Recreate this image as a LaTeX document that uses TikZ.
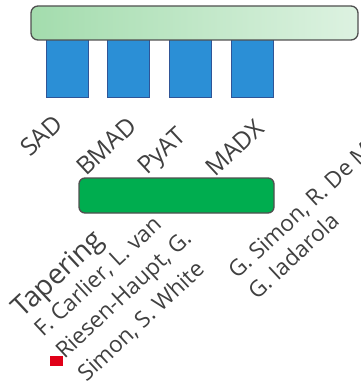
\documentclass[tikz,border=0pt]{standalone}
\usepackage{fontspec}
\setmainfont{Open Sans}
\definecolor{barleft}{HTML}{A3DCAD}
\definecolor{barright}{HTML}{DDF2E1}
\definecolor{bordergray}{HTML}{505050}
\definecolor{toolblue}{HTML}{2B8FD6}
\definecolor{blueedge}{HTML}{2F5597}
\definecolor{greenbar}{HTML}{00AD4F}
\definecolor{textgray}{HTML}{404040}
\definecolor{marker}{HTML}{E00018}
\begin{document}
\begin{tikzpicture}[x=1pt,y=-1pt]
\useasboundingbox (0,0) rectangle (360,390);
\clip (0,0) rectangle (360,390);
\tikzset{
  topbar/.style={draw=bordergray, line width=1.3pt, rounded corners=7pt, left color=barleft, right color=barright, inner sep=0pt},
  toolbox/.style={draw=blueedge, line width=0.8pt, fill=toolblue, inner sep=0pt, minimum width=42pt, minimum height=59pt},
  lowbar/.style={draw=bordergray, line width=1.3pt, rounded corners=6pt, fill=greenbar, inner sep=0pt},
  rotlbl/.style={rotate=43, anchor=base west, text=textgray, inner sep=0pt},
  toollbl/.style={rotlbl, font=\fontsize{24.5}{29}\selectfont},
  taplbl/.style={rotlbl, font=\fontsize{28}{33}\selectfont},
  namelbl/.style={rotlbl, font=\fontsize{22.5}{27}\selectfont},
  redmark/.style={fill=marker, inner sep=0pt, minimum width=13pt, minimum height=10pt}
}
\node[toolbox] (sad) at (67,67.5) {};
\node[toolbox] (bmad) at (128.5,67.5) {};
\node[toolbox] (pyat) at (190,67.5) {};
\node[toolbox] (madx) at (252,67.5) {};
\node[topbar, minimum width=327pt, minimum height=34pt] (bar) at (194.5,23) {};
\node[lowbar, minimum width=195pt, minimum height=35pt] (low) at (176.5,195.5) {};

\node[toollbl] (tsad) at (30,158) {SAD};
\node[toollbl] (tbmad) at (86,177) {BMAD};
\node[toollbl] (tpyat) at (147,176) {PyAT};
\node[toollbl] (tmadx) at (215,178) {MADX};

\node[taplbl] (ttap) at (22.5,319) {Tapering};
\node[namelbl] (n1) at (43,338) {F. Carlier, L. van};
\node[namelbl] (n2) at (64.5,360) {Riesen-Haupt, G.};
\node[namelbl] (n3) at (86.5,382.5) {Simon, S. White};
\node[namelbl] (n4) at (237,280) {G. Simon, R. De Maria,};
\node[namelbl] (n5) at (257,301) {G. Iadarola};

\node[redmark] (red) at (56.5,361) {};
\end{tikzpicture}
\end{document}
